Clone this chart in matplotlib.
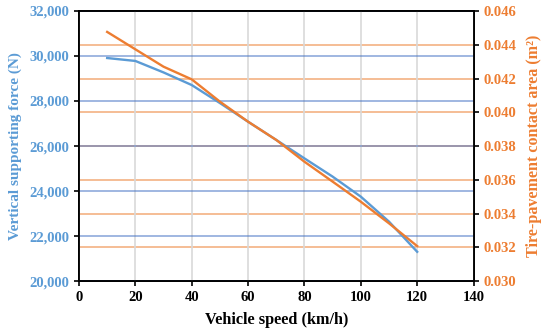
import matplotlib.pyplot as plt

# datos
velocidad = [10, 20, 30, 40, 50, 60, 70, 80, 90, 100, 110, 120]
fuerza = [29910, 29780, 29270, 28710, 27910, 27080, 26270, 25450, 24640, 23750, 22640, 21300]
area = [0.04476, 0.04373, 0.0427, 0.04195, 0.04063, 0.03944, 0.03836, 0.03707, 0.03589, 0.0347, 0.03342, 0.03207]

azul = '#5B9BD5'
naranja = '#ED7D31'
plt.rcParams['font.family'] = ['Liberation Serif', 'DejaVu Serif']

fig = plt.figure(figsize=(5.5, 3.33), dpi=100)
ax = fig.add_axes([0.1436, 0.156, 0.7174, 0.811])
ax2 = ax.twinx()
# eje izquierdo encima para que la rejilla azul quede sobre la naranja
ax.set_zorder(ax2.get_zorder() + 1)
ax.patch.set_visible(False)

ax.set_xlim(0, 140)
ax.set_ylim(20000, 32000)
ax2.set_ylim(0.030, 0.046)
ax.set_xticks(range(0, 141, 20))
ax.set_yticks(range(20000, 32001, 2000))
ax2.set_yticks([0.030 + 0.002 * i for i in range(9)])
ax.set_yticklabels([f'{v:,}' for v in range(20000, 32001, 2000)])
ax2.set_yticklabels([f'{0.030 + 0.002 * i:.3f}' for i in range(9)])

ax2.grid(axis='y', color='#F4B183', lw=1.2)
ax.grid(axis='y', color='#4472C4', alpha=0.6, lw=1.2)
ax.grid(axis='x', color='#D9D9D9', lw=1.2)
ax.set_axisbelow(True)

ax.plot(velocidad, fuerza, color=azul, lw=1.7, zorder=3)
ax.plot(velocidad, area, color=naranja, lw=1.7, zorder=4, transform=ax2.transData)

for a in (ax, ax2):
    for s in a.spines.values():
        s.set_linewidth(1.3)
    a.tick_params(direction='out', length=3.5, width=1.2)

ax.tick_params(axis='y', labelcolor=azul, labelsize=10.5)
ax.tick_params(axis='x', labelcolor='black', labelsize=10.5)
ax2.tick_params(axis='y', labelcolor=naranja, labelsize=10.5)
for lab in ax.get_xticklabels() + ax.get_yticklabels() + ax2.get_yticklabels():
    lab.set_fontweight('bold')

ax.set_xlabel('Vehicle speed (km/h)', fontsize=11.7, fontweight='bold', labelpad=6)
ax.set_ylabel('Vertical supporting force (N)', fontsize=11, fontweight='bold', color=azul, labelpad=5)
ax2.set_ylabel('Tire-pavement contact area (m²)', fontsize=11.6, fontweight='bold', color=naranja, labelpad=7)

fig.savefig('out.png', dpi=100)
